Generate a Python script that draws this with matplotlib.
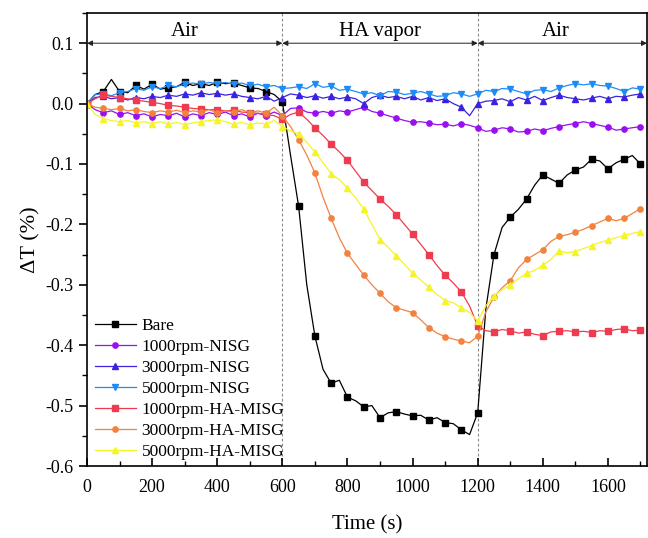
import matplotlib; matplotlib.use("Agg")
import matplotlib.pyplot as plt
import numpy as np
from matplotlib.ticker import MultipleLocator

plt.rcParams["font.family"] = ["Liberation Serif", "DejaVu Serif"]
plt.rcParams["axes.unicode_minus"] = False

# time axis (s), one sample every 25 s
time = np.arange(0, 1701, 25)

bare = [0.000, 0.015, 0.020, 0.040, 0.020, 0.018, 0.030, 0.024, 0.032, 0.024,
        0.026, 0.028, 0.035, 0.030, 0.033, 0.030, 0.035, 0.033, 0.034, 0.030,
        0.026, 0.025, 0.020, 0.015, 0.003, -0.085, -0.170, -0.300, -0.385, -0.440,
        -0.463, -0.458, -0.486, -0.492, -0.502, -0.500, -0.520, -0.512, -0.510, -0.514,
        -0.517, -0.516, -0.524, -0.520, -0.528, -0.530, -0.540, -0.548, -0.512, -0.340,
        -0.250, -0.205, -0.188, -0.175, -0.158, -0.135, -0.118, -0.125, -0.132, -0.118,
        -0.110, -0.105, -0.092, -0.095, -0.108, -0.098, -0.092, -0.086, -0.100]
nisg_1000 = [0.000, -0.010, -0.015, -0.012, -0.018, -0.015, -0.020, -0.017, -0.022, -0.018,
             -0.020, -0.016, -0.022, -0.017, -0.020, -0.015, -0.018, -0.014, -0.020, -0.017,
             -0.022, -0.016, -0.020, -0.014, -0.020, -0.008, -0.007, -0.014, -0.016, -0.013,
             -0.016, -0.012, -0.014, -0.010, -0.006, -0.013, -0.016, -0.020, -0.024, -0.028,
             -0.031, -0.030, -0.032, -0.035, -0.034, -0.037, -0.033, -0.036, -0.040, -0.046,
             -0.044, -0.040, -0.042, -0.047, -0.046, -0.042, -0.045, -0.041, -0.038, -0.035,
             -0.033, -0.030, -0.033, -0.036, -0.039, -0.044, -0.042, -0.040, -0.038]
nisg_3000 = [0.000, 0.010, 0.012, 0.008, 0.010, 0.006, 0.010, 0.008, 0.012, 0.010,
             0.014, 0.012, 0.016, 0.014, 0.018, 0.015, 0.017, 0.014, 0.016, 0.012,
             0.010, 0.008, 0.012, 0.004, 0.010, 0.016, 0.014, 0.010, 0.013, 0.009,
             0.012, 0.008, 0.011, 0.008, 0.000, 0.010, 0.014, 0.010, 0.012, 0.008,
             0.012, 0.006, 0.010, 0.005, 0.008, 0.000, -0.006, -0.020, 0.000, 0.004,
             0.005, 0.008, 0.003, 0.010, 0.006, 0.012, 0.005, 0.010, 0.014, 0.010,
             0.008, 0.006, 0.009, 0.012, 0.008, 0.012, 0.011, 0.014, 0.016]
nisg_5000 = [0.000, 0.015, 0.016, 0.013, 0.018, 0.020, 0.025, 0.022, 0.028, 0.025,
             0.030, 0.028, 0.032, 0.034, 0.032, 0.035, 0.033, 0.035, 0.032, 0.034,
             0.030, 0.032, 0.028, 0.030, 0.025, 0.026, 0.028, 0.025, 0.033, 0.027,
             0.029, 0.022, 0.024, 0.020, 0.016, 0.018, 0.013, 0.020, 0.019, 0.015,
             0.017, 0.020, 0.016, 0.012, 0.013, 0.018, 0.016, 0.012, 0.016, 0.022,
             0.020, 0.025, 0.024, 0.020, 0.016, 0.022, 0.023, 0.020, 0.026, 0.030,
             0.033, 0.031, 0.033, 0.030, 0.029, 0.025, 0.020, 0.026, 0.024]
misg_1000 = [0.000, 0.008, 0.014, 0.012, 0.010, 0.008, 0.006, 0.004, 0.002, 0.000,
             -0.003, -0.004, -0.006, -0.008, -0.009, -0.010, -0.010, -0.012, -0.011, -0.014,
             -0.015, -0.016, -0.018, -0.020, -0.026, -0.018, -0.014, -0.026, -0.040, -0.053,
             -0.067, -0.080, -0.094, -0.112, -0.130, -0.144, -0.158, -0.170, -0.184, -0.200,
             -0.216, -0.233, -0.250, -0.268, -0.284, -0.297, -0.312, -0.335, -0.368, -0.376,
             -0.378, -0.374, -0.376, -0.380, -0.378, -0.382, -0.384, -0.378, -0.377, -0.376,
             -0.378, -0.377, -0.379, -0.376, -0.377, -0.374, -0.373, -0.376, -0.375]
misg_3000 = [0.000, -0.006, -0.008, -0.010, -0.008, -0.012, -0.010, -0.013, -0.015, -0.012,
             -0.014, -0.011, -0.015, -0.012, -0.014, -0.010, -0.015, -0.012, -0.014, -0.010,
             -0.015, -0.012, -0.016, -0.006, -0.020, -0.038, -0.060, -0.085, -0.115, -0.155,
             -0.190, -0.222, -0.248, -0.266, -0.284, -0.300, -0.314, -0.328, -0.338, -0.342,
             -0.346, -0.358, -0.371, -0.380, -0.386, -0.390, -0.393, -0.396, -0.385, -0.345,
             -0.320, -0.305, -0.293, -0.272, -0.258, -0.250, -0.242, -0.228, -0.220, -0.217,
             -0.213, -0.208, -0.202, -0.196, -0.190, -0.194, -0.190, -0.182, -0.174]
misg_5000 = [0.000, -0.018, -0.025, -0.028, -0.030, -0.028, -0.032, -0.030, -0.033, -0.030,
             -0.034, -0.031, -0.035, -0.032, -0.030, -0.028, -0.027, -0.030, -0.034, -0.031,
             -0.035, -0.032, -0.034, -0.028, -0.038, -0.045, -0.050, -0.064, -0.080, -0.098,
             -0.116, -0.126, -0.140, -0.156, -0.175, -0.200, -0.225, -0.238, -0.252, -0.266,
             -0.281, -0.292, -0.304, -0.316, -0.326, -0.330, -0.338, -0.346, -0.360, -0.335,
             -0.318, -0.308, -0.300, -0.290, -0.281, -0.276, -0.268, -0.258, -0.244, -0.247,
             -0.245, -0.240, -0.235, -0.230, -0.226, -0.222, -0.218, -0.215, -0.212]

labels = ["Bare", "1000rpm-NISG", "3000rpm-NISG", "5000rpm-NISG",
          "1000rpm-HA-MISG", "3000rpm-HA-MISG", "5000rpm-HA-MISG"]
series = [bare, nisg_1000, nisg_3000, nisg_5000, misg_1000, misg_3000, misg_5000]
colors = ["#000000", "#9810F0", "#3A22E0", "#1E8CF5", "#EE3B50", "#F2823E", "#F4F428"]
markers = ["s", "o", "^", "v", "s", "o", "^"]

# stage arrows
stages = [("Air", 0, 600), ("HA vapor", 600, 1200), ("Air", 1200, 1720)]

fig = plt.figure(figsize=(6.48, 5.38), dpi=100)
ax = fig.add_axes([87/648, 72/538, 560/648, 453/538])

for y, lab, c, m in zip(series, labels, colors, markers):
    ax.plot(time, y, color=c, lw=0.9, marker=m, markersize=3.8, markevery=2,
            markeredgecolor=c, label=lab)

for xv in (600, 1200):
    ax.axvline(xv, color="#888888", ls=(0, (2.5, 2)), lw=0.8, zorder=0)

for name, a, b in stages:
    ax.annotate("", xy=(a, 0.1), xytext=(b, 0.1),
                arrowprops=dict(arrowstyle="<|-|>", color="#222222", lw=0.7,
                                mutation_scale=8, shrinkA=0, shrinkB=0))
    ax.text((a + b) / 2 - (20 if name == "Air" and a > 0 else 0), 0.104, name,
            ha="center", va="bottom", fontsize=15)

ax.set_xlim(0, 1720)
ax.set_ylim(-0.6, 0.15)
ax.xaxis.set_major_locator(MultipleLocator(200))
ax.xaxis.set_minor_locator(MultipleLocator(100))
ax.yaxis.set_major_locator(MultipleLocator(0.1))
ax.yaxis.set_minor_locator(MultipleLocator(0.05))
ax.yaxis.set_major_formatter(plt.FuncFormatter(lambda v, p: f"{v:.1f}".replace("-0.0", "0.0")))
ax.tick_params(axis="x", which="both", direction="in", labelsize=13, top=False, pad=9)
ax.tick_params(axis="x", which="major", length=6, width=1.2)
ax.tick_params(axis="x", which="minor", length=3.5, width=1.0)
ax.tick_params(axis="y", which="both", direction="out", labelsize=13, right=False)
ax.tick_params(axis="y", which="major", length=6, width=1.2)
ax.tick_params(axis="y", which="minor", length=3.5, width=1.0)
for s in ax.spines.values():
    s.set_linewidth(1.2)

ax.set_xlabel("Time (s)", fontsize=15, labelpad=14)
ax.set_ylabel("ΔT (%)", fontsize=16, labelpad=4)

ax.legend(loc="lower left", bbox_to_anchor=(-0.005, -0.01), frameon=False,
          fontsize=12.5, handlelength=2.4, handletextpad=0.3, labelspacing=0.28,
          borderaxespad=0.2)

fig.savefig("out.png", dpi=100)
